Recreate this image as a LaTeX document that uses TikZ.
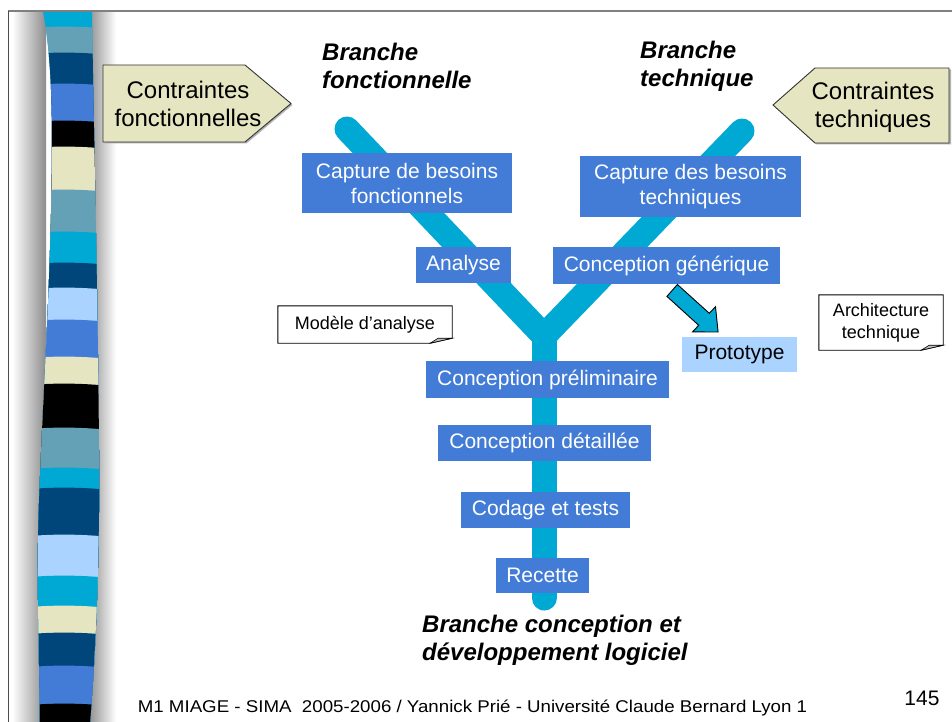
\documentclass[tikz,border=0pt]{standalone}
\usepackage{fontspec}
\setmainfont{Liberation Sans}
\usetikzlibrary{calc}

\definecolor{ycyan}{RGB}{0,168,212}
\definecolor{boxblue}{RGB}{66,124,214}
\definecolor{protoblue}{RGB}{170,212,255}
\definecolor{calloutbeige}{RGB}{229,229,194}
\definecolor{snavy}{RGB}{0,70,122}
\definecolor{ssteel}{RGB}{100,160,182}
\definecolor{slight}{RGB}{170,212,255}
\definecolor{sbeige}{RGB}{229,229,194}

\tikzset{
  stepbox/.style={fill=boxblue, text=white, font=\fontsize{21}{25}\selectfont,
    align=center, inner sep=0pt},
  protobox/.style={fill=protoblue, text=black, font=\fontsize{21}{25}\selectfont,
    align=center, inner sep=0pt},
  branchlabel/.style={font=\fontsize{24}{28}\selectfont\bfseries\itshape,
    align=left, inner sep=0pt, anchor=west},
  callouttext/.style={font=\fontsize{24}{28}\selectfont, align=center, inner sep=0pt},
  calloutshape/.style={fill=calloutbeige, draw=black!80, line width=0.9pt, line join=miter},
  calloutshadow/.style={fill=black!30},
  notebox/.style={font=\fontsize{18}{22}\selectfont, align=center, inner sep=0pt},
  noteline/.style={draw=black, fill=white, line width=0.9pt},
  yshape/.style={ycyan, line width=25pt},
}

\newcommand{\notecard}[1]{%
  \path[noteline] (#1.north west) -- (#1.north east) -- ($(#1.south east)+(0,-5)$)
    -- ($(#1.south east)+(-22,0)$) -- (#1.south west) -- cycle;
  \filldraw[fill=black!25, draw=black, line width=0.6pt]
    ($(#1.south east)+(-22,0)$) -- ($(#1.south east)+(-14,-5)$)
    -- ($(#1.south east)+(0,-5)$) -- cycle;
}

\begin{document}
\begin{tikzpicture}[x=1pt, y=-1pt]
\useasboundingbox (0,0) rectangle (952,722);
\fill[white] (0,0) rectangle (952,722);

% soft shadow on both sides of the striped band
\shade[left color=white, right color=black!45] (12,11) rectangle (46,722);
\shade[left color=black!45, right color=white] (88,11) rectangle (116,722);

% striped band
\begin{scope}
  \clip (43,11) .. controls (52,60) and (54,120) .. (50,250)
        .. controls (46,380) and (36,500) .. (38,600)
        .. controls (39,680) and (40,700) .. (40,722)
        -- (90,722) .. controls (96,650) and (100,550) .. (99,450)
        .. controls (98,300) and (94,150) .. (92,11) -- cycle;
  \foreach \y/\c in {0/ycyan, 28/ssteel, 54/snavy, 85/boxblue, 122/black,
      148/sbeige, 191/ssteel, 233/ycyan, 264/snavy, 289/slight, 321/boxblue,
      358/sbeige, 385/black, 429/ssteel, 469/ycyan, 489/snavy, 536/slight,
      577/ycyan, 607/sbeige, 634/snavy, 667/boxblue, 705/black}
    \fill[\c] (30,\y) .. controls (55,\y-2) and (80,\y-2) .. (110,\y+1)
      -- (110,722) -- (30,722) -- cycle;
\end{scope}

% page frame
\draw[black!50, line width=2pt] (8,11) -- (952,11);
\draw[black!70, line width=1pt] (8,722) -- (8,11);

% the Y of the process
\coordinate (ftop) at (347,129);
\coordinate (ttop) at (742,131);
\coordinate (fork) at (544,336);
\coordinate (foot) at (544,598);
\draw[yshape, line cap=round, line join=miter] (ftop) -- (fork) -- (ttop);
\draw[yshape, line cap=round] (fork) -- (foot);

% branch titles
\node[branchlabel] (bf) at (322,66) {Branche\\fonctionnelle};
\node[branchlabel] (bt) at (640,66) {Branche\\technique};
\node[branchlabel] (bc) at (422,640) {Branche conception et\\développement logiciel};

% constraint callouts
\path[calloutshadow] (104.5,66.5) -- (246.5,66.5) -- (292.5,105) -- (246.5,143.5) -- (104.5,143.5) -- cycle;
\path[calloutshape] (103,65) -- (245,65) -- (291,103.5) -- (245,142) -- (103,142) -- cycle;
\node[callouttext] (cf) at (188,104) {Contraintes\\fonctionnelles};

\path[calloutshadow] (774.5,106.5) -- (816.5,69.5) -- (951,69.5) -- (951,144.5) -- (816.5,144.5) -- cycle;
\path[calloutshape] (773,105) -- (815,68) -- (949,68) -- (949,143) -- (815,143) -- cycle;
\node[callouttext] (ct) at (873,107) {Contraintes\\techniques};

% process steps
\node[stepbox, minimum width=210, minimum height=60] (cbf) at (407,183)
  {Capture de besoins\\fonctionnels};
\node[stepbox, minimum width=221, minimum height=61] (cbt) at (690.5,186.5)
  {Capture des besoins\\techniques};
\node[stepbox, minimum width=95, minimum height=36] (ana) at (463.5,265) {Analyse};
\node[stepbox, minimum width=227, minimum height=37] (cgen) at (666.5,265.5)
  {Conception générique};
\node[stepbox, minimum width=243, minimum height=37] (cpre) at (547.5,379.5)
  {Conception préliminaire};
\node[stepbox, minimum width=213, minimum height=36] (cdet) at (544.5,443)
  {Conception détaillée};
\node[stepbox, minimum width=169, minimum height=36] (cod) at (545.5,510)
  {Codage et tests};
\node[stepbox, minimum width=93, minimum height=35] (rec) at (542.5,575.5) {Recette};
\node[protobox, minimum width=115, minimum height=35] (proto) at (739.5,354.5)
  {Prototype};

% block arrow from the generic design to the prototype
\filldraw[fill=ycyan, draw=black, line width=0.9pt, line join=miter]
  (677.4,284.5) -- (709.3,313.3) -- (715.5,306.7) -- (718.1,332.0)
  -- (692.5,331.9) -- (698.7,325.3) -- (666.9,296.4) -- cycle;

% model notes
\node[notebox, minimum width=174, minimum height=37] (ma) at (365,324.5) {};
\notecard{ma}
\node[notebox] at (ma) {Modèle d’analyse};
\node[notebox, minimum width=124, minimum height=55] (at) at (881,322.5) {};
\notecard{at}
\node[notebox] at (at) {Architecture\\technique};

% footer
\node[font=\fontsize{17}{20}\selectfont, inner sep=0pt] (foot) at (472.5,708)
  {\scalebox{1.1}[1]{M1 MIAGE - SIMA\ \ 2005-2006 / Yannick Prié - Université Claude Bernard Lyon 1}};
\node[font=\fontsize{21}{25}\selectfont, inner sep=0pt] (page) at (922,698) {145};
\end{tikzpicture}
\end{document}
